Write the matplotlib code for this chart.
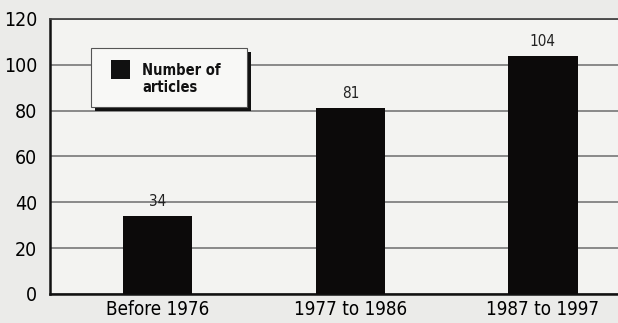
import matplotlib.pyplot as plt
from matplotlib.patches import Rectangle

# data
categories = ['Before 1976', '1977 to 1986', '1987 to 1997']
articles = [34, 81, 104]
yticks = [0, 20, 40, 60, 80, 100, 120]

plt.rcParams['font.family'] = ['DejaVu Sans']
plt.rcParams['font.stretch'] = 'condensed'

fig = plt.figure(figsize=(6.18, 3.23), dpi=100)
fig.patch.set_facecolor('#ebebe9')
ax = fig.add_axes([0.0809, 0.0898, 0.9191, 0.8514])
ax.set_facecolor('#f3f3f1')

x = list(range(len(categories)))
bars = ax.bar(x, articles, width=0.36, color='#0c0a0a', zorder=3)

ax.set_xlim(-0.56, 2.39)
ax.set_ylim(0, 120)
ax.set_yticks(yticks)
ax.set_xticks(x)
ax.set_xticklabels(categories, fontsize=13.5)
ax.tick_params(axis='y', length=0, pad=9, labelsize=14)
ax.tick_params(axis='x', length=0, pad=4)
ax.yaxis.grid(True, color='#777777', linewidth=1.2, zorder=0)

for s in ['left', 'bottom', 'top']:
    ax.spines[s].set_linewidth(1.8)
    ax.spines[s].set_color('#111111')
ax.spines['top'].set_linewidth(1.3)
ax.spines['top'].set_color('#444444')
ax.spines['right'].set_visible(False)

for xi, v in zip(x, articles):
    ax.text(xi, v + 3, str(v), ha='center', va='bottom', fontsize=11, color='#222222')

# legend box with shadow
ax.add_patch(Rectangle((0.079, 0.665), 0.275, 0.2145, transform=ax.transAxes,
                       facecolor='#111111', edgecolor='none', zorder=4, clip_on=False))
ax.add_patch(Rectangle((0.072, 0.68), 0.275, 0.2145, transform=ax.transAxes,
                       facecolor='#f8f8f6', edgecolor='#555555', linewidth=0.8,
                       zorder=5, clip_on=False))
ax.add_patch(Rectangle((0.107, 0.782), 0.034, 0.069, transform=ax.transAxes,
                       facecolor='#111111', edgecolor='none', zorder=6))
ax.text(0.162, 0.782, 'Number of\narticles', transform=ax.transAxes,
        ha='left', va='center', fontsize=10.5, fontweight='bold',
        linespacing=1.2, color='#111111', zorder=7)

plt.savefig('out.png', dpi=100, facecolor=fig.get_facecolor())
